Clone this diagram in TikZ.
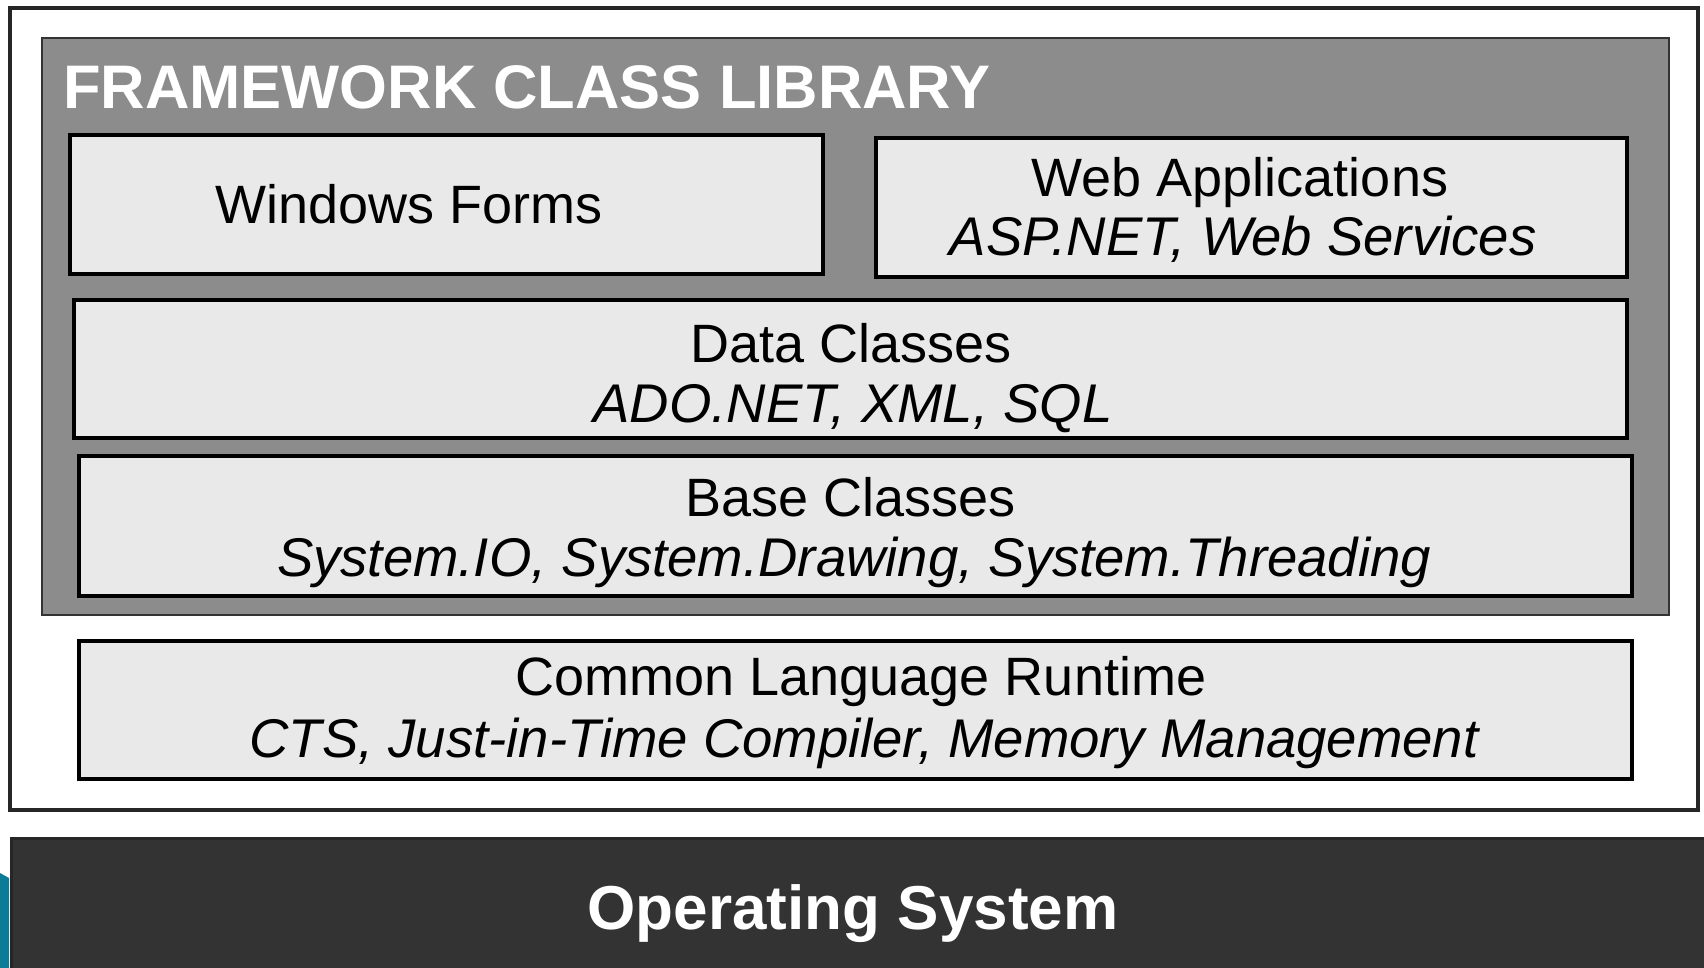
\documentclass[tikz,border=0pt]{standalone}
\usepackage{fontspec}
\setmainfont{Liberation Sans}
\usetikzlibrary{positioning}
\definecolor{boxgray}{HTML}{E9E9E9}
\definecolor{fclgray}{HTML}{8C8C8C}
\definecolor{osdark}{HTML}{333333}
\definecolor{tealedge}{HTML}{0B7C98}
\tikzset{
  layer/.style={draw=black, line width=3.5pt, fill=boxgray,
                inner sep=0pt, outer sep=0pt},
  main/.style={font=\fontsize{54}{60}\selectfont,
               anchor=base, inner sep=0pt},
  sub/.style={main, font=\fontsize{54.5}{60}\selectfont\itshape},
  heading/.style={font=\fontsize{61.5}{66}\selectfont\bfseries,
                  text=white, inner sep=0pt}
}
\begin{document}
\begin{tikzpicture}[x=1pt,y=-1pt]
  \useasboundingbox[fill=white] (0,0) rectangle (1704,968);
  \fill[tealedge] (0,873) -- (9,878) -- (9,968) -- (0,968) -- cycle;
  % outer frame and class library
  \node[draw=black!85, line width=3.5pt, fill=white,
        minimum width=1688pt, minimum height=802pt,
        inner sep=0pt] (dotnet) at (854,409) {};
  \node[draw=black!80, line width=2.5pt, fill=fclgray,
        minimum width=1627pt, minimum height=577pt,
        inner sep=0pt] (fcl) at (855.5,326.5) {};
  \node[heading, anchor=base west] (fcltitle)
         at (63,109) {FRAMEWORK CLASS LIBRARY};
  % layers
  \node[layer, minimum width=753pt, minimum height=139pt]
         (winforms) at (446.5,204.5) {};
  \node[main] (winformstext) at (409,224) {Windows Forms};
  \node[layer, minimum width=751pt, minimum height=139pt]
         (webapps) at (1251.5,207.5) {};
  \node[main] (webtitle) at (1240,197) {Web Applications};
  \node[sub] (websub) at (1243,256) {ASP.NET, Web Services};
  \node[layer, minimum width=1553pt, minimum height=138pt]
         (data) at (850.5,369) {};
  \node[main] (datatitle) at (851,362) {Data Classes};
  \node[sub] (datasub) at (853,422) {ADO.NET, XML, SQL};
  \node[layer, minimum width=1553pt, minimum height=140pt]
         (base) at (855.5,526) {};
  \node[main] (basetitle) at (851,516) {Base Classes};
  \node[sub] (basesub) at (854,576)
    {System.IO, System.Drawing, System.Threading};
  \node[layer, minimum width=1553pt, minimum height=138pt]
         (clr) at (855.5,710) {};
  \node[main] (clrtitle) at (861,695) {Common Language Runtime};
  \node[sub] (clrsub) at (864,757)
    {CTS, Just-in-Time Compiler, Memory Management};
  % operating system
  \node[draw=black!85, line width=3pt, fill=osdark,
        minimum width=1700pt, minimum height=140pt,
        inner sep=0pt] (os) at (861,908) {};
  \node[heading, anchor=base, font=\fontsize{62}{68}\selectfont\bfseries]
         (ostitle) at (853,929) {Operating System};
\end{tikzpicture}
\end{document}
